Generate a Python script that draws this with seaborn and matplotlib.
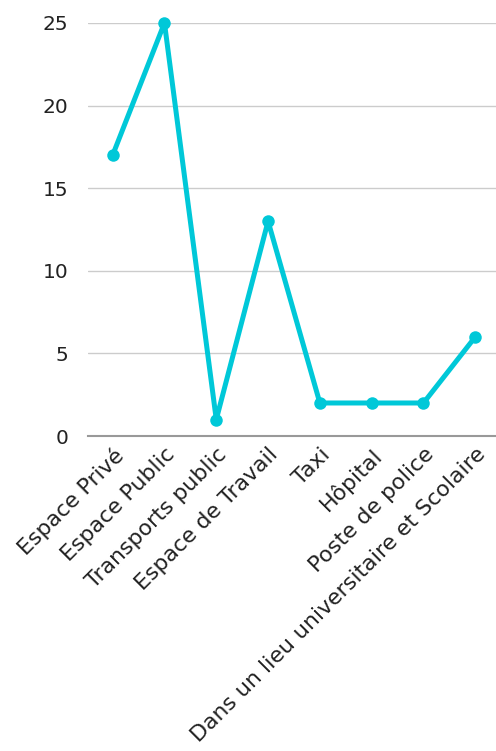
import numpy as np
import pandas as pd
import matplotlib
matplotlib.use('Agg')
import matplotlib.pyplot as plt
import seaborn as sns

lieux = ['Espace Privé', 'Espace Public', 'Transports public', 'Espace de Travail',
         'Taxi', 'Hôpital', 'Poste de police', 'Dans un lieu universitaire et Scolaire']
cas = [17, 25, 1, 13, 2, 2, 2, 6]

df = pd.DataFrame({'Lieu': lieux, 'Cas': cas})

sns.set_style('white')
plt.rcParams['font.family'] = ['DejaVu Sans']

fig = plt.figure(figsize=(4.96, 7.51), dpi=100)
ax = fig.add_axes([0.177, 0.4194, 0.823, 0.55])

sns.lineplot(data=df, x='Lieu', y='Cas', sort=False, ax=ax, color='#00C8D8',
             linewidth=3.6, marker='o', markersize=9, markeredgewidth=0,
             clip_on=False, zorder=3)

ax.set_ylim(0, 25)
ax.set_xlim(-0.48, 7.4)
ax.set_yticks([0, 5, 10, 15, 20, 25])
ax.yaxis.grid(True, color='#cccccc', linewidth=1)
ax.set_axisbelow(True)
for s in ['top', 'right', 'left']:
    ax.spines[s].set_visible(False)
ax.spines['bottom'].set_color('#999999')
ax.spines['bottom'].set_linewidth(1.5)
ax.set_xlabel('')
ax.set_ylabel('')
ax.tick_params(axis='y', labelsize=14.5, colors='#222222', length=0, pad=14)
ax.tick_params(axis='x', labelsize=15.8, colors='#222222', length=0, pad=6)
plt.setp(ax.get_xticklabels(), rotation=45, ha='right', va='top', rotation_mode='anchor')

fig.savefig('out.png', dpi=100)
